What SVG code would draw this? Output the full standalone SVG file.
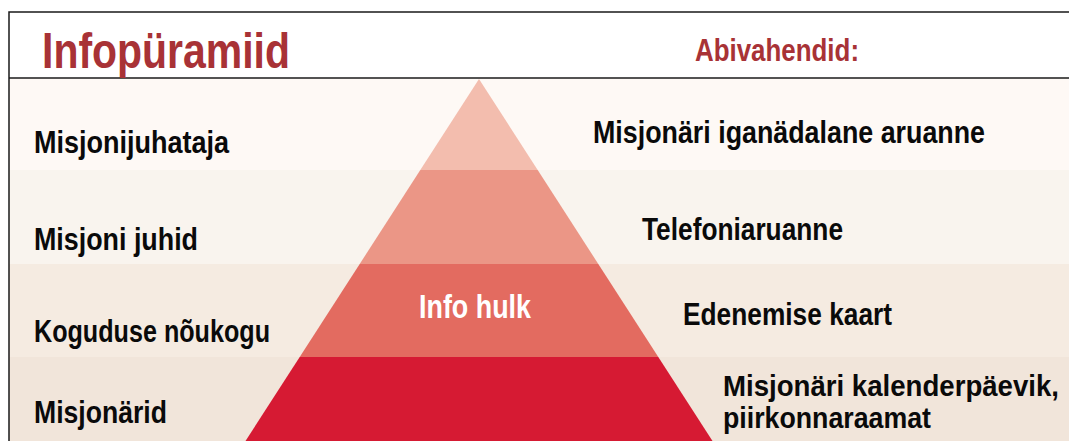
<svg xmlns="http://www.w3.org/2000/svg" width="1069" height="441" viewBox="0 0 1069 441">
  <style>
    .t { font-family: "Liberation Sans Narrow", "Liberation Sans", "DejaVu Sans Condensed", sans-serif; font-weight: bold; }
    .red { fill: #a83236; }
    .blk { fill: #0a0a0a; font-size: 32px; }
    .blk2 { fill: #0a0a0a; font-size: 29px; }
    .wht { fill: #ffffff; font-size: 33px; }
    .frame { stroke: #1a1a1a; fill: none; }
  </style>
  <rect x="0" y="0" width="1069" height="441" fill="#ffffff"/>
  <g id="bands">
    <rect x="9" y="78" width="1060" height="92" fill="#fef9f5"/>
    <rect x="9" y="170" width="1060" height="94" fill="#f9f4ee"/>
    <rect x="9" y="264" width="1060" height="93" fill="#f5ebe1"/>
    <rect x="9" y="357" width="1060" height="84" fill="#f1e5da"/>
  </g>
  <g id="pyramid">
    <polygon id="layer1" points="479,79 537.7,170 420.3,170" fill="#f3bdae"/>
    <polygon id="layer2" points="420.3,170 537.7,170 598.3,264 359.7,264" fill="#eb9686"/>
    <polygon id="layer3" points="359.7,264 598.3,264 658.3,357 299.7,357" fill="#e36b60"/>
    <polygon id="layer4" points="299.7,357 658.3,357 712.5,441 245.5,441" fill="#d61a33"/>
  </g>
  <g id="frame">
    <path class="frame" d="M9,441 V12 H1069" stroke-width="1.5"/>
    <line class="frame" x1="9" y1="78" x2="1069" y2="78" stroke-width="1.5"/>
  </g>
  <g id="header">
    <text class="t red" x="42" y="68" font-size="50" textLength="248" lengthAdjust="spacingAndGlyphs">Infopüramiid</text>
    <text class="t red" x="695" y="61" font-size="32" textLength="164" lengthAdjust="spacingAndGlyphs">Abivahendid:</text>
  </g>
  <g id="level1">
    <text class="t blk" x="34" y="153" textLength="195" lengthAdjust="spacingAndGlyphs">Misjonijuhataja</text>
    <text class="t blk" x="593" y="143" textLength="392" lengthAdjust="spacingAndGlyphs">Misjonäri iganädalane aruanne</text>
  </g>
  <g id="level2">
    <text class="t blk" x="34" y="250" textLength="164" lengthAdjust="spacingAndGlyphs">Misjoni juhid</text>
    <text class="t blk" x="642" y="240" textLength="201" lengthAdjust="spacingAndGlyphs">Telefoniaruanne</text>
  </g>
  <g id="level3">
    <text class="t blk" x="34" y="342" textLength="236" lengthAdjust="spacingAndGlyphs">Koguduse nõukogu</text>
    <text class="t blk" x="683" y="325" textLength="209" lengthAdjust="spacingAndGlyphs">Edenemise kaart</text>
    <text class="t wht" x="419" y="318" textLength="112" lengthAdjust="spacingAndGlyphs">Info hulk</text>
  </g>
  <g id="level4">
    <text class="t blk" x="34" y="423" textLength="133" lengthAdjust="spacingAndGlyphs">Misjonärid</text>
    <text class="t blk2" x="723" y="396" textLength="336" lengthAdjust="spacingAndGlyphs">Misjonäri kalenderpäevik,</text>
    <text class="t blk2" x="723" y="428" textLength="208" lengthAdjust="spacingAndGlyphs">piirkonnaraamat</text>
  </g>
</svg>
